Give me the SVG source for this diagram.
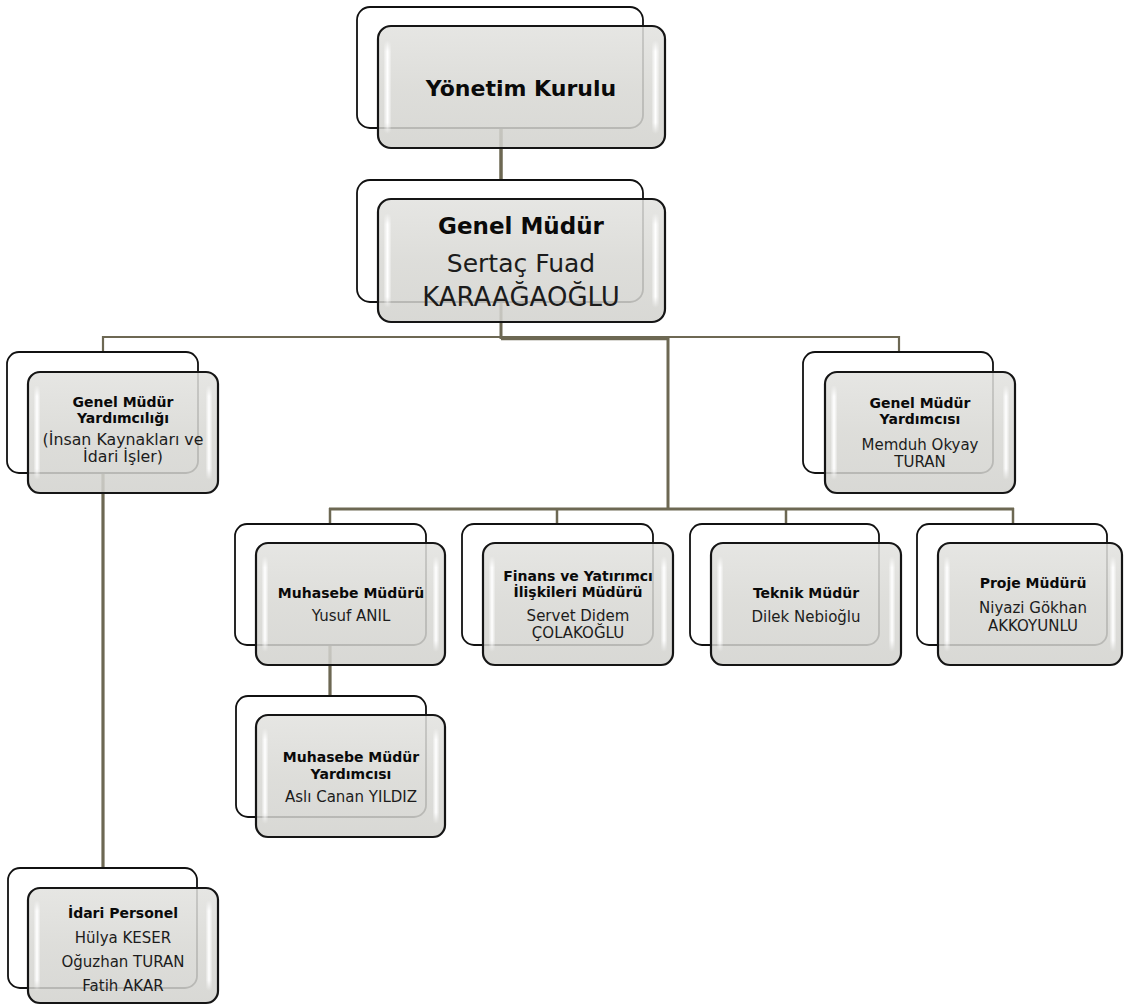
<svg xmlns="http://www.w3.org/2000/svg" width="1124" height="1007" viewBox="0 0 1124 1007">
<defs>
<linearGradient id="fillG" x1="0" y1="0" x2="0" y2="1">
<stop offset="0" stop-color="#e2e2df"/>
<stop offset="0.5" stop-color="#d8d8d4"/>
<stop offset="1" stop-color="#d2d2ce"/>
</linearGradient>
<linearGradient id="barG" x1="0" y1="0" x2="1" y2="0">
<stop offset="0" stop-color="#ffffff" stop-opacity="0.2"/>
<stop offset="0.5" stop-color="#ffffff" stop-opacity="1"/>
<stop offset="1" stop-color="#ffffff" stop-opacity="0.2"/>
</linearGradient>
<linearGradient id="barV" x1="0" y1="0" x2="0" y2="1">
<stop offset="0" stop-color="#ffffff" stop-opacity="0"/>
<stop offset="0.12" stop-color="#ffffff" stop-opacity="1"/>
<stop offset="0.88" stop-color="#ffffff" stop-opacity="1"/>
<stop offset="1" stop-color="#ffffff" stop-opacity="0"/>
</linearGradient>
<mask id="barMask" maskContentUnits="objectBoundingBox">
<rect x="0" y="0" width="1" height="1" fill="url(#barV)"/>
</mask>
</defs>
<style>
.back{fill:none;stroke:#111;stroke-width:1.8}
.front{fill:url(#fillG);fill-opacity:0.86;stroke:#151515;stroke-width:2.2}
.bar{fill:url(#barG)}
.con{stroke:#6d6853;fill:none;stroke-linecap:butt}
text{font-family:"DejaVu Sans","Liberation Sans",sans-serif;text-anchor:middle}
.b{font-weight:bold;fill:#0a0a0a;font-size:14px}
.r{fill:#1c1c1c;font-size:15px}
</style>
<rect width="1124" height="1007" fill="#ffffff"/>
<g id="connectors">
<line class="con" x1="501" y1="128" x2="501" y2="180" stroke-width="3.5"/>
<line class="con" x1="501" y1="302" x2="501" y2="339" stroke-width="3"/>
<line class="con" x1="103" y1="337" x2="899" y2="337" stroke-width="2"/>
<line class="con" x1="501" y1="338.5" x2="668" y2="338.5" stroke-width="3.5"/>
<line class="con" x1="103" y1="336" x2="103" y2="352" stroke-width="2.2"/>
<line class="con" x1="899" y1="336" x2="899" y2="352" stroke-width="2.2"/>
<line class="con" x1="668" y1="337" x2="668" y2="510" stroke-width="3"/>
<line class="con" x1="329" y1="509" x2="1014" y2="509" stroke-width="2.8"/>
<line class="con" x1="330" y1="508" x2="330" y2="524" stroke-width="2.5"/>
<line class="con" x1="557" y1="508" x2="557" y2="524" stroke-width="2.5"/>
<line class="con" x1="786" y1="508" x2="786" y2="524" stroke-width="2.5"/>
<line class="con" x1="1013" y1="508" x2="1013" y2="524" stroke-width="2.5"/>
<line class="con" x1="330" y1="645" x2="330" y2="696" stroke-width="3.2"/>
<line class="con" x1="103" y1="473" x2="103" y2="868" stroke-width="3.2"/>
</g>
<g id="yonetim-kurulu">
<rect class="back" x="357" y="7" width="286" height="121" rx="13"/>
<rect class="front" x="378" y="26" width="287" height="122" rx="13"/>
<rect class="bar" x="384" y="40" width="7" height="94" rx="3.5" mask="url(#barMask)"/>
<rect class="bar" x="652" y="40" width="7" height="94" rx="3.5" mask="url(#barMask)"/>
<text class="b" x="521" y="96" style="font-size:22px">Yönetim Kurulu</text>
</g>
<g id="genel-mudur">
<rect class="back" x="357" y="180" width="286" height="122" rx="13"/>
<rect class="front" x="378" y="199" width="287" height="123" rx="13"/>
<rect class="bar" x="384" y="213" width="7" height="95" rx="3.5" mask="url(#barMask)"/>
<rect class="bar" x="652" y="213" width="7" height="95" rx="3.5" mask="url(#barMask)"/>
<text class="b" x="521" y="234" style="font-size:23px">Genel Müdür</text>
<text class="r" x="521" y="272" style="font-size:25px">Sertaç Fuad</text>
<text class="r" x="521" y="306" style="font-size:26px">KARAAĞAOĞLU</text>
</g>
<g id="gmy-insan-kaynaklari">
<rect class="back" x="7" y="352" width="191" height="121" rx="12"/>
<rect class="front" x="28" y="372" width="190" height="121" rx="12"/>
<rect class="bar" x="34" y="385" width="6" height="95" rx="3" mask="url(#barMask)"/>
<rect class="bar" x="206" y="385" width="6" height="95" rx="3" mask="url(#barMask)"/>
<text class="b" x="123" y="407">Genel Müdür</text>
<text class="b" x="123" y="423">Yardımcılığı</text>
<text class="r" x="123" y="445" style="font-size:15.8px">(İnsan Kaynakları ve</text>
<text class="r" x="123" y="462" style="font-size:15.8px">İdari İşler)</text>
</g>
<g id="gmy-memduh">
<rect class="back" x="803" y="352" width="190" height="121" rx="12"/>
<rect class="front" x="825" y="372" width="190" height="121" rx="12"/>
<rect class="bar" x="831" y="385" width="6" height="95" rx="3" mask="url(#barMask)"/>
<rect class="bar" x="1003" y="385" width="6" height="95" rx="3" mask="url(#barMask)"/>
<text class="b" x="920" y="408">Genel Müdür</text>
<text class="b" x="920" y="424">Yardımcısı</text>
<text class="r" x="920" y="450">Memduh Okyay</text>
<text class="r" x="920" y="467">TURAN</text>
</g>
<g id="muhasebe-muduru">
<rect class="back" x="235" y="524" width="191" height="121" rx="12"/>
<rect class="front" x="256" y="543" width="189" height="122" rx="12"/>
<rect class="bar" x="262" y="556" width="6" height="96" rx="3" mask="url(#barMask)"/>
<rect class="bar" x="433" y="556" width="6" height="96" rx="3" mask="url(#barMask)"/>
<text class="b" x="351" y="598">Muhasebe Müdürü</text>
<text class="r" x="351" y="621">Yusuf ANIL</text>
</g>
<g id="finans-muduru">
<rect class="back" x="462" y="524" width="191" height="121" rx="12"/>
<rect class="front" x="483" y="543" width="190" height="122" rx="12"/>
<rect class="bar" x="489" y="556" width="6" height="96" rx="3" mask="url(#barMask)"/>
<rect class="bar" x="661" y="556" width="6" height="96" rx="3" mask="url(#barMask)"/>
<text class="b" x="578" y="581">Finans ve Yatırımcı</text>
<text class="b" x="578" y="597">İlişkileri Müdürü</text>
<text class="r" x="578" y="621">Servet Didem</text>
<text class="r" x="578" y="638">ÇOLAKOĞLU</text>
</g>
<g id="teknik-mudur">
<rect class="back" x="690" y="524" width="189" height="121" rx="12"/>
<rect class="front" x="711" y="543" width="190" height="122" rx="12"/>
<rect class="bar" x="717" y="556" width="6" height="96" rx="3" mask="url(#barMask)"/>
<rect class="bar" x="889" y="556" width="6" height="96" rx="3" mask="url(#barMask)"/>
<text class="b" x="806" y="598">Teknik Müdür</text>
<text class="r" x="806" y="622">Dilek Nebioğlu</text>
</g>
<g id="proje-muduru">
<rect class="back" x="917" y="524" width="190" height="121" rx="12"/>
<rect class="front" x="938" y="543" width="184" height="122" rx="12"/>
<rect class="bar" x="944" y="556" width="6" height="96" rx="3" mask="url(#barMask)"/>
<rect class="bar" x="1110" y="556" width="6" height="96" rx="3" mask="url(#barMask)"/>
<text class="b" x="1033" y="588">Proje Müdürü</text>
<text class="r" x="1033" y="613">Niyazi Gökhan</text>
<text class="r" x="1033" y="631">AKKOYUNLU</text>
</g>
<g id="muhasebe-mudur-yardimcisi">
<rect class="back" x="236" y="696" width="190" height="121" rx="12"/>
<rect class="front" x="256" y="715" width="189" height="122" rx="12"/>
<rect class="bar" x="262" y="728" width="6" height="96" rx="3" mask="url(#barMask)"/>
<rect class="bar" x="433" y="728" width="6" height="96" rx="3" mask="url(#barMask)"/>
<text class="b" x="351" y="762">Muhasebe Müdür</text>
<text class="b" x="351" y="779">Yardımcısı</text>
<text class="r" x="351" y="802">Aslı Canan YILDIZ</text>
</g>
<g id="idari-personel">
<rect class="back" x="8" y="868" width="189" height="120" rx="12"/>
<rect class="front" x="28" y="888" width="190" height="115" rx="12"/>
<rect class="bar" x="34" y="900" width="6" height="91" rx="3" mask="url(#barMask)"/>
<rect class="bar" x="206" y="900" width="6" height="91" rx="3" mask="url(#barMask)"/>
<text class="b" x="123" y="918">İdari Personel</text>
<text class="r" x="123" y="943">Hülya KESER</text>
<text class="r" x="123" y="967">Oğuzhan TURAN</text>
<text class="r" x="123" y="991">Fatih AKAR</text>
</g>
</svg>
